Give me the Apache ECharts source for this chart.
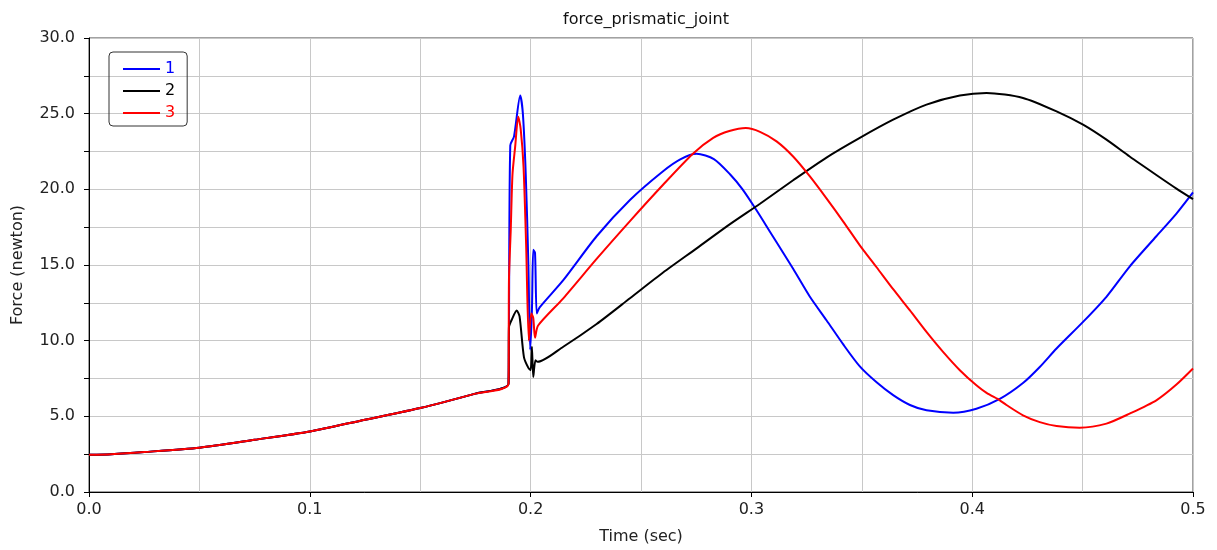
<!DOCTYPE html>
<html>
<head>
<meta charset="utf-8">
<script src="https://cdn.jsdelivr.net/npm/echarts@6/dist/echarts.min.js"></script>
<style>
  html, body { margin: 0; padding: 0; background: #fff; }
  #chart { width: 1217px; height: 550px; }
</style>
</head>
<body>
<div id="chart"></div>
<script>
// shared part before the impact (all three curves lie on top of each other)
var tPre = [0, 0.01, 0.025, 0.05, 0.075, 0.1, 0.125, 0.15, 0.175, 0.19];
var fPre = [2.46, 2.5, 2.64, 2.93, 3.45, 4.0, 4.78, 5.55, 6.5, 7.15];

// curve 1 (blue)
var t1 = [0.1902, 0.1908, 0.1925, 0.1953, 0.1965, 0.1978, 0.1990, 0.1998, 0.2006, 0.2012, 0.2020, 0.2028,
  0.2041, 0.2148, 0.2299, 0.2450, 0.2600, 0.2680, 0.2752, 0.2830, 0.2903, 0.2960, 0.3024, 0.3084,
  0.3114, 0.3189, 0.3265, 0.3340, 0.3416, 0.3491, 0.3567, 0.3642, 0.3718, 0.3793, 0.3914, 0.4019,
  0.4125, 0.4230, 0.4306, 0.4382, 0.4502, 0.4608, 0.4713, 0.4834, 0.4925, 0.5];
var f1 = [10.9, 22.9, 23.5, 26.2, 25.0, 21.0, 15.0, 9.4, 12.0, 16.0, 15.8, 11.8,
  12.2, 14.0, 16.9, 19.3, 21.2, 22.0, 22.35, 22.0, 21.0, 20.0, 18.6, 17.2,
  16.5, 14.75, 12.9, 11.35, 9.75, 8.3, 7.25, 6.4, 5.75, 5.4, 5.24, 5.5,
  6.15, 7.2, 8.26, 9.48, 11.24, 12.9, 14.9, 16.9, 18.4, 19.8];

// curve 2 (black)
var t2 = [0.1902, 0.1915, 0.1937, 0.1950, 0.1970, 0.1990, 0.2000, 0.2006, 0.2012, 0.2022,
  0.2032, 0.2148, 0.2299, 0.2450, 0.2600, 0.2752, 0.2903, 0.3039, 0.3189, 0.3340, 0.3491,
  0.3642, 0.3793, 0.3944, 0.4065, 0.4230, 0.4382, 0.4502, 0.4608, 0.4713, 0.4834, 0.4925, 0.5];
var f2 = [10.9, 11.4, 12.0, 11.6, 8.9, 8.2, 8.05, 9.6, 7.6, 8.7,
  8.6, 9.6, 11.1, 12.8, 14.5, 16.1, 17.7, 19.05, 20.6, 22.1, 23.4,
  24.6, 25.6, 26.2, 26.37, 26.04, 25.15, 24.27, 23.28, 22.17, 20.95, 20.05, 19.35];

// curve 3 (red)
var t3 = [0.1902, 0.1910, 0.1918, 0.1930, 0.1944, 0.1955, 0.1968, 0.1980, 0.1992, 0.2003, 0.2012, 0.2020,
  0.2034, 0.2148, 0.2299, 0.2450, 0.2600, 0.2735, 0.2827, 0.2900, 0.2975, 0.3039, 0.3114, 0.3189,
  0.3265, 0.3340, 0.3416, 0.3491, 0.3567, 0.3642, 0.3718, 0.3793, 0.3868, 0.3944, 0.4019, 0.4065,
  0.4125, 0.4155, 0.4230, 0.4306, 0.4382, 0.4487, 0.4608, 0.4713, 0.4834, 0.4925, 0.5];
var f3 = [14.0, 17.3, 21.0, 22.8, 24.8, 24.0, 21.5, 16.2, 10.0, 11.8, 11.5, 10.2,
  11.0, 12.8, 15.4, 17.9, 20.3, 22.35, 23.4, 23.85, 24.05, 23.8, 23.17, 22.17,
  20.85, 19.4, 17.87, 16.3, 14.85, 13.4, 12.0, 10.58, 9.26, 8.05, 7.05, 6.55,
  6.06, 5.75, 5.07, 4.62, 4.36, 4.25, 4.52, 5.18, 6.06, 7.1, 8.16];

var names = ['1', '2', '3'];
var colors = ['#0000ff', '#000000', '#ff0000'];

function pairs(t, f) {
  var out = [];
  for (var i = 0; i < tPre.length; i++) out.push([tPre[i], fPre[i]]);
  for (var j = 0; j < t.length; j++) out.push([t[j], f[j]]);
  return out;
}
var seriesData = [pairs(t1, f1), pairs(t2, f2), pairs(t3, f3)];

var gridColor = '#c8c8c8';
var font = 'DejaVu Sans';

var option = {
  animation: false,
  textStyle: { fontFamily: font },
  title: {
    text: 'force_prismatic_joint',
    left: 641,
    textAlign: 'center',
    top: 7,
    textStyle: { fontSize: 16, fontWeight: 'normal', color: '#111', fontFamily: font }
  },
  legend: {
    orient: 'vertical',
    left: 109,
    top: 52,
    icon: 'rect',
    itemWidth: 37,
    itemHeight: 2,
    itemGap: 6,
    padding: [9, 12, 5, 14],
    borderColor: '#333',
    borderWidth: 1,
    borderRadius: 4,
    textStyle: { fontSize: 16, fontFamily: font },
    data: names.map(function (n, i) {
      return { name: n, textStyle: { color: colors[i] } };
    })
  },
  grid: {
    left: 89, right: 24, top: 38, bottom: 58,
    show: true, borderColor: '#444', borderWidth: 1
  },
  xAxis: {
    type: 'value',
    min: 0, max: 0.5, interval: 0.1,
    name: 'Time (sec)',
    nameLocation: 'middle',
    nameGap: 37,
    nameTextStyle: { fontSize: 16, color: '#222', fontFamily: font },
    axisLine: { onZero: false, lineStyle: { color: '#000' } },
    axisTick: { show: true, length: 5, lineStyle: { color: '#000' } },
    axisLabel: {
      fontSize: 16, color: '#222', margin: 10, fontFamily: font,
      formatter: function (v) { return v.toFixed(1); }
    },
    splitLine: { show: true, lineStyle: { color: gridColor } },
    minorTick: { show: false, splitNumber: 2 },
    minorSplitLine: { show: true, lineStyle: { color: gridColor } }
  },
  yAxis: {
    type: 'value',
    min: 0, max: 30, interval: 5,
    name: 'Force (newton)',
    nameLocation: 'middle',
    nameGap: 63,
    nameTextStyle: { fontSize: 16, color: '#222', fontFamily: font },
    axisLine: { show: true, lineStyle: { color: '#000' } },
    axisTick: { show: true, length: 5, lineStyle: { color: '#000' } },
    axisLabel: {
      fontSize: 16, color: '#222', margin: 14, fontFamily: font,
      formatter: function (v) { return v.toFixed(1); }
    },
    splitLine: { show: true, lineStyle: { color: gridColor } },
    minorTick: { show: true, splitNumber: 2, length: 5, lineStyle: { color: '#000' } },
    minorSplitLine: { show: true, lineStyle: { color: gridColor } }
  },
  series: names.map(function (n, i) {
    return {
      name: n,
      type: 'line',
      data: seriesData[i],
      symbol: 'none',
      showSymbol: false,
      smooth: 0.25,
      color: colors[i],
      lineStyle: { width: 2, color: colors[i] }
    };
  })
};

var chart = echarts.init(document.getElementById('chart'));
chart.setOption(option);
</script>
</body>
</html>
